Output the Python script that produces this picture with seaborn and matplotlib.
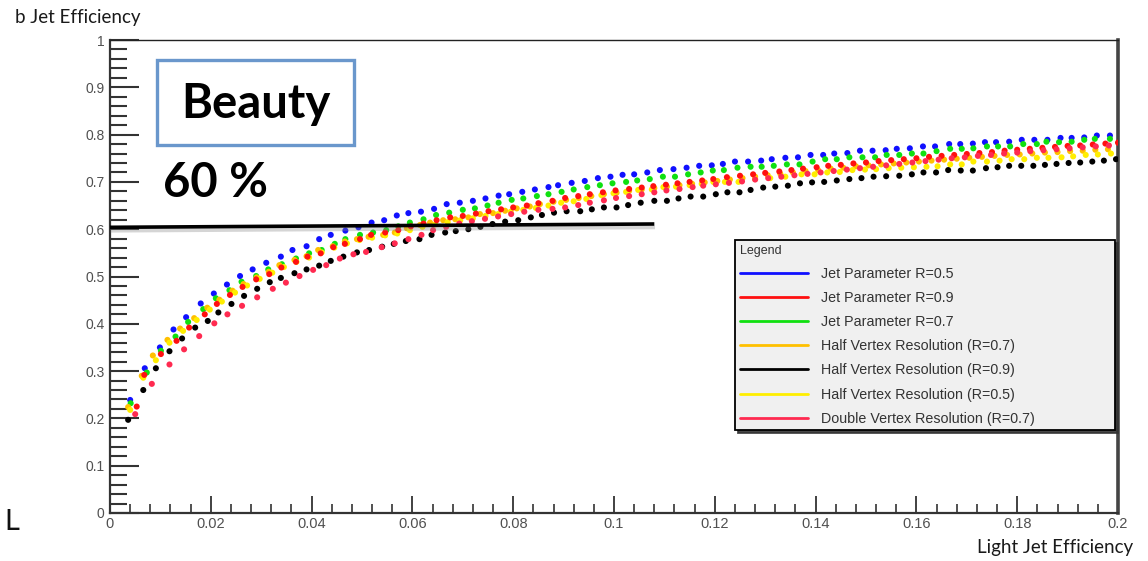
import matplotlib
matplotlib.use("Agg")
import numpy as np
import pandas as pd
import seaborn as sns
import matplotlib.pyplot as plt
from matplotlib.lines import Line2D
from matplotlib.patches import Rectangle
from matplotlib.ticker import MultipleLocator, FixedLocator, FixedFormatter
import matplotlib.patheffects as pe

# ---------------- data ----------------
SERIES = [
    "Jet Parameter R=0.5",
    "Jet Parameter R=0.9",
    "Jet Parameter R=0.7",
    "Half Vertex Resolution (R=0.7)",
    "Half Vertex Resolution (R=0.9)",
    "Half Vertex Resolution (R=0.5)",
    "Double Vertex Resolution (R=0.7)",
]
COLORS = ["#1010ff", "#ff1010", "#10e010", "#ffc000", "#000000", "#ffee00", "#ff2a50"]

blue_x = [0.0040, 0.0069, 0.0099, 0.0126, 0.0151, 0.0180, 0.0206, 0.0232, 0.0258, 0.0283,
          0.0310, 0.0339, 0.0362, 0.0390, 0.0415, 0.0438, 0.0467, 0.0493, 0.0519, 0.0544,
          0.0569, 0.0592, 0.0617, 0.0643, 0.0668, 0.0694, 0.0720, 0.0745, 0.0771, 0.0792,
          0.0818, 0.0843, 0.0870, 0.0889, 0.0916, 0.0942, 0.0968, 0.0993, 0.1017, 0.1040,
          0.1066, 0.1091, 0.1118, 0.1144, 0.1169, 0.1194, 0.1216, 0.1240, 0.1266, 0.1292,
          0.1313, 0.1340, 0.1365, 0.1390, 0.1415, 0.1437, 0.1463, 0.1488, 0.1513, 0.1539,
          0.1561, 0.1587, 0.1613, 0.1637, 0.1665, 0.1687, 0.1712, 0.1736, 0.1758, 0.1784,
          0.1809, 0.1834, 0.1860, 0.1886, 0.1908, 0.1933, 0.1958, 0.1984]
blue_y = [0.239, 0.306, 0.350, 0.388, 0.414, 0.443, 0.464, 0.483, 0.501, 0.515,
          0.529, 0.542, 0.556, 0.564, 0.579, 0.588, 0.597, 0.604, 0.614, 0.619,
          0.629, 0.634, 0.637, 0.643, 0.653, 0.656, 0.660, 0.665, 0.671, 0.674,
          0.679, 0.684, 0.689, 0.693, 0.698, 0.702, 0.708, 0.711, 0.715, 0.716,
          0.720, 0.725, 0.727, 0.730, 0.734, 0.735, 0.738, 0.743, 0.743, 0.745,
          0.748, 0.751, 0.752, 0.757, 0.757, 0.760, 0.761, 0.766, 0.766, 0.767,
          0.770, 0.771, 0.775, 0.775, 0.780, 0.780, 0.781, 0.784, 0.784, 0.785,
          0.789, 0.789, 0.789, 0.793, 0.793, 0.794, 0.798, 0.798]

red_x = [0.0053, 0.0068, 0.0101, 0.0132, 0.0157, 0.0188, 0.0212, 0.0238, 0.0263, 0.0290,
         0.0316, 0.0340, 0.0369, 0.0392, 0.0418, 0.0443, 0.0466, 0.0496, 0.0518, 0.0546,
         0.0572, 0.0597, 0.0622, 0.0648, 0.0675, 0.0700, 0.0726, 0.0751, 0.0776, 0.0800,
         0.0827, 0.0850, 0.0878, 0.0903, 0.0929, 0.0952, 0.0978, 0.1003, 0.1030, 0.1055,
         0.1078, 0.1103, 0.1126, 0.1150, 0.1175, 0.1197, 0.1224, 0.1250, 0.1276, 0.1300,
         0.1328, 0.1352, 0.1375, 0.1402, 0.1425, 0.1450, 0.1475, 0.1500, 0.1525, 0.1550,
         0.1575, 0.1600, 0.1625, 0.1650, 0.1675, 0.1700, 0.1725, 0.1750, 0.1775, 0.1800,
         0.1825, 0.1850, 0.1875, 0.1900, 0.1925, 0.1950, 0.1975, 0.2000]
red_y = [0.225, 0.292, 0.336, 0.364, 0.392, 0.420, 0.442, 0.461, 0.478, 0.494,
         0.505, 0.519, 0.531, 0.542, 0.549, 0.562, 0.569, 0.579, 0.588, 0.593,
         0.598, 0.606, 0.612, 0.619, 0.625, 0.628, 0.633, 0.638, 0.642, 0.646,
         0.650, 0.655, 0.660, 0.666, 0.670, 0.674, 0.678, 0.682, 0.685, 0.688,
         0.691, 0.694, 0.697, 0.700, 0.703, 0.706, 0.710, 0.713, 0.716, 0.719,
         0.722, 0.725, 0.728, 0.731, 0.734, 0.736, 0.739, 0.741, 0.744, 0.746,
         0.748, 0.750, 0.753, 0.755, 0.757, 0.759, 0.761, 0.763, 0.766, 0.768,
         0.770, 0.772, 0.774, 0.776, 0.777, 0.779, 0.781, 0.783]

green_x = [0.0041, 0.0073, 0.0101, 0.0130, 0.0155, 0.0185, 0.0210, 0.0237, 0.0261, 0.0290,
           0.0314, 0.0341, 0.0369, 0.0395, 0.0420, 0.0446, 0.0467, 0.0496, 0.0522, 0.0548,
           0.0572, 0.0595, 0.0622, 0.0647, 0.0673, 0.0700, 0.0724, 0.0749, 0.0771, 0.0797,
           0.0820, 0.0847, 0.0870, 0.0896, 0.0920, 0.0947, 0.0972, 0.0997, 0.1024, 0.1046,
           0.1071, 0.1097, 0.1121, 0.1147, 0.1172, 0.1196, 0.1218, 0.1245, 0.1271, 0.1293,
           0.1317, 0.1343, 0.1368, 0.1394, 0.1419, 0.1442, 0.1467, 0.1493, 0.1518, 0.1541,
           0.1566, 0.1591, 0.1614, 0.1640, 0.1667, 0.1690, 0.1713, 0.1740, 0.1762, 0.1786,
           0.1812, 0.1839, 0.1858, 0.1883, 0.1908, 0.1933, 0.1954, 0.1984]
green_y = [0.232, 0.297, 0.343, 0.373, 0.404, 0.431, 0.454, 0.471, 0.489, 0.501,
           0.515, 0.526, 0.538, 0.549, 0.556, 0.569, 0.579, 0.588, 0.593, 0.598,
           0.606, 0.614, 0.621, 0.630, 0.635, 0.641, 0.644, 0.650, 0.656, 0.662,
           0.665, 0.670, 0.674, 0.679, 0.684, 0.689, 0.693, 0.697, 0.700, 0.703,
           0.706, 0.711, 0.711, 0.716, 0.720, 0.724, 0.725, 0.730, 0.732, 0.732,
           0.734, 0.737, 0.737, 0.743, 0.748, 0.748, 0.752, 0.752, 0.752, 0.757,
           0.757, 0.760, 0.760, 0.765, 0.770, 0.770, 0.771, 0.775, 0.775, 0.775,
           0.780, 0.780, 0.785, 0.784, 0.785, 0.789, 0.791, 0.791]

orange_x = [0.0036, 0.0063, 0.0085, 0.0114, 0.0139, 0.0167, 0.0193, 0.0217, 0.0243, 0.0265,
            0.0291, 0.0315, 0.0336, 0.0366, 0.0390, 0.0413, 0.0442, 0.0466, 0.0490, 0.0513,
            0.0542, 0.0565, 0.0589, 0.0615, 0.0635, 0.0661, 0.0685, 0.0711, 0.0734, 0.0760,
            0.0784, 0.0807, 0.0833, 0.0853, 0.0880, 0.0905, 0.0930, 0.0955, 0.0980, 0.1005,
            0.1030, 0.1055, 0.1080, 0.1105, 0.1130, 0.1155, 0.1180, 0.1205, 0.1230, 0.1255,
            0.1280, 0.1305, 0.1330, 0.1355, 0.1380, 0.1405, 0.1430, 0.1455, 0.1480, 0.1505,
            0.1530, 0.1555, 0.1580, 0.1605, 0.1630, 0.1655, 0.1680, 0.1705, 0.1730, 0.1755,
            0.1780, 0.1805, 0.1830, 0.1855, 0.1880, 0.1905, 0.1930, 0.1955, 0.1980]
orange_y = [0.224, 0.290, 0.333, 0.366, 0.390, 0.412, 0.434, 0.451, 0.470, 0.484,
            0.498, 0.510, 0.524, 0.535, 0.543, 0.556, 0.564, 0.574, 0.579, 0.584,
            0.588, 0.593, 0.602, 0.609, 0.614, 0.619, 0.621, 0.625, 0.632, 0.634,
            0.639, 0.644, 0.648, 0.653, 0.658, 0.662, 0.666, 0.670, 0.674, 0.677,
            0.681, 0.684, 0.687, 0.690, 0.693, 0.696, 0.699, 0.702, 0.705, 0.708,
            0.711, 0.714, 0.717, 0.720, 0.723, 0.725, 0.728, 0.730, 0.733, 0.735,
            0.737, 0.739, 0.741, 0.743, 0.745, 0.747, 0.749, 0.751, 0.753, 0.755,
            0.757, 0.758, 0.760, 0.762, 0.763, 0.765, 0.766, 0.768, 0.769]

black_x = [0.0036, 0.0066, 0.0091, 0.0118, 0.0143, 0.0169, 0.0194, 0.0215, 0.0241, 0.0266,
           0.0292, 0.0317, 0.0339, 0.0366, 0.0390, 0.0415, 0.0438, 0.0463, 0.0490, 0.0514,
           0.0540, 0.0563, 0.0587, 0.0614, 0.0638, 0.0665, 0.0686, 0.0711, 0.0735, 0.0759,
           0.0784, 0.0810, 0.0835, 0.0857, 0.0881, 0.0906, 0.0933, 0.0956, 0.0980, 0.1005,
           0.1028, 0.1053, 0.1080, 0.1105, 0.1128, 0.1152, 0.1177, 0.1202, 0.1225, 0.1249,
           0.1271, 0.1296, 0.1320, 0.1345, 0.1369, 0.1393, 0.1417, 0.1442, 0.1467, 0.1491,
           0.1515, 0.1540, 0.1566, 0.1591, 0.1614, 0.1639, 0.1663, 0.1688, 0.1712, 0.1738,
           0.1761, 0.1784, 0.1808, 0.1832, 0.1855, 0.1878, 0.1902, 0.1925, 0.1949, 0.1972,
           0.1996]
black_y = [0.197, 0.260, 0.306, 0.342, 0.369, 0.392, 0.406, 0.424, 0.442, 0.459,
           0.474, 0.488, 0.497, 0.507, 0.515, 0.523, 0.533, 0.542, 0.551, 0.556,
           0.563, 0.569, 0.575, 0.579, 0.588, 0.593, 0.596, 0.600, 0.605, 0.611,
           0.616, 0.619, 0.625, 0.630, 0.635, 0.638, 0.638, 0.642, 0.646, 0.646,
           0.651, 0.656, 0.660, 0.660, 0.665, 0.669, 0.669, 0.674, 0.678, 0.678,
           0.683, 0.688, 0.690, 0.692, 0.697, 0.699, 0.700, 0.703, 0.706, 0.708,
           0.711, 0.712, 0.713, 0.716, 0.720, 0.720, 0.725, 0.724, 0.724, 0.729,
           0.731, 0.734, 0.734, 0.734, 0.736, 0.738, 0.740, 0.741, 0.743, 0.745,
           0.748]

yellow_x = [0.0040, 0.0066, 0.0091, 0.0118, 0.0145, 0.0172, 0.0198, 0.0222, 0.0248, 0.0272,
            0.0297, 0.0322, 0.0345, 0.0370, 0.0395, 0.0420, 0.0445, 0.0470, 0.0495, 0.0520,
            0.0546, 0.0570, 0.0595, 0.0620, 0.0645, 0.0670, 0.0695, 0.0720, 0.0745, 0.0770,
            0.0795, 0.0820, 0.0845, 0.0870, 0.0895, 0.0920, 0.0945, 0.0975, 0.0999, 0.1024,
            0.1048, 0.1075, 0.1098, 0.1123, 0.1150, 0.1174, 0.1197, 0.1220, 0.1247, 0.1280,
            0.1310, 0.1340, 0.1372, 0.1398, 0.1423, 0.1448, 0.1473, 0.1498, 0.1520, 0.1545,
            0.1570, 0.1595, 0.1620, 0.1642, 0.1667, 0.1690, 0.1713, 0.1740, 0.1765, 0.1789,
            0.1814, 0.1839, 0.1862, 0.1888, 0.1911, 0.1936, 0.1960, 0.1986]
yellow_y = [0.218, 0.286, 0.323, 0.360, 0.385, 0.408, 0.430, 0.447, 0.466, 0.481,
            0.495, 0.508, 0.520, 0.531, 0.540, 0.551, 0.561, 0.570, 0.577, 0.582,
            0.587, 0.591, 0.598, 0.605, 0.610, 0.615, 0.619, 0.623, 0.628, 0.632,
            0.637, 0.641, 0.645, 0.650, 0.656, 0.659, 0.664, 0.672, 0.676, 0.679,
            0.683, 0.684, 0.689, 0.690, 0.693, 0.696, 0.700, 0.700, 0.700, 0.706,
            0.708, 0.711, 0.716, 0.716, 0.720, 0.721, 0.725, 0.726, 0.727, 0.729,
            0.730, 0.731, 0.732, 0.733, 0.737, 0.737, 0.743, 0.743, 0.745, 0.748,
            0.748, 0.751, 0.751, 0.752, 0.754, 0.757, 0.758, 0.760]

pink_x = [0.0050, 0.0083, 0.0118, 0.0147, 0.0177, 0.0207, 0.0233, 0.0262, 0.0292, 0.0323,
          0.0349, 0.0376, 0.0403, 0.0429, 0.0456, 0.0483, 0.0508, 0.0539, 0.0565, 0.0592,
          0.0618, 0.0641, 0.0667, 0.0693, 0.0718, 0.0744, 0.0770, 0.0796, 0.0822, 0.0850,
          0.0878, 0.0903, 0.0929, 0.0952, 0.0980, 0.1004, 0.1030, 0.1055, 0.1080, 0.1104,
          0.1130, 0.1156, 0.1177, 0.1202, 0.1228, 0.1254, 0.1280, 0.1306, 0.1332, 0.1358,
          0.1384, 0.1410, 0.1436, 0.1462, 0.1488, 0.1514, 0.1540, 0.1566, 0.1592, 0.1618,
          0.1644, 0.1670, 0.1696, 0.1722, 0.1748, 0.1774, 0.1800, 0.1826, 0.1852, 0.1878,
          0.1904, 0.1930, 0.1956, 0.1982]
pink_y = [0.209, 0.273, 0.314, 0.346, 0.374, 0.401, 0.420, 0.438, 0.456, 0.474,
          0.487, 0.501, 0.514, 0.524, 0.538, 0.547, 0.552, 0.562, 0.570, 0.579,
          0.588, 0.598, 0.605, 0.612, 0.617, 0.622, 0.627, 0.632, 0.637, 0.641,
          0.643, 0.646, 0.651, 0.656, 0.661, 0.666, 0.670, 0.674, 0.678, 0.682,
          0.685, 0.689, 0.692, 0.695, 0.698, 0.701, 0.705, 0.708, 0.711, 0.714,
          0.717, 0.720, 0.723, 0.726, 0.729, 0.732, 0.735, 0.738, 0.741, 0.744,
          0.747, 0.750, 0.752, 0.755, 0.757, 0.760, 0.762, 0.765, 0.767, 0.769,
          0.771, 0.773, 0.775, 0.777]

SERIES_X = [blue_x, red_x, green_x, orange_x, black_x, yellow_x, pink_x]
SERIES_Y = [blue_y, red_y, green_y, orange_y, black_y, yellow_y, pink_y]

# draw order (pink and red over the others, like the reference)
DRAW_ORDER = [0, 2, 3, 5, 4, 1, 6]

Y_TICKS = [0.0, 0.1, 0.2, 0.3, 0.4, 0.5, 0.6, 0.7, 0.8, 0.9, 1.0]
Y_TICK_LABELS = ["0", "0.1", "0.2", "0.3", "0.4", "0.5", "0.6", "0.7", "0.8", "0.9", "1"]
X_TICKS = [0.0, 0.02, 0.04, 0.06, 0.08, 0.10, 0.12, 0.14, 0.16, 0.18, 0.20]
X_TICK_LABELS = ["0", "0.02", "0.04", "0.06", "0.08", "0.1", "0.12", "0.14", "0.16", "0.18", "0.2"]

# 60 % working-point line
LINE_X = [0.0, 0.108]
LINE_Y = [0.604, 0.611]

# ---------------- figure ----------------
sns.set_theme(style="white")
plt.rcParams["font.family"] = ["Liberation Sans", "DejaVu Sans"]

fig = plt.figure(figsize=(11.48, 5.61), dpi=100)
fig.patch.set_facecolor("white")
ax = fig.add_axes([110 / 1148, 48 / 561, 1008 / 1148, 473 / 561])
ax.set_facecolor("white")

frames = []
for i in DRAW_ORDER:
    frames.append(pd.DataFrame({"x": SERIES_X[i], "y": SERIES_Y[i], "series": SERIES[i]}))
df = pd.concat(frames, ignore_index=True)

sns.scatterplot(data=df, x="x", y="y", hue="series",
                palette=dict(zip(SERIES, COLORS)), hue_order=SERIES,
                s=19, linewidth=0, legend=False, ax=ax, zorder=3)

ax.plot(LINE_X, LINE_Y, color="black", lw=2.6, solid_capstyle="butt", zorder=4,
        clip_on=False,
        path_effects=[pe.SimpleLineShadow(offset=(0.5, -2.5), shadow_color="#888888", alpha=0.35),
                      pe.Normal()])

ax.set_xlim(0, 0.2)
ax.set_ylim(0, 1)
ax.set_xlabel("")
ax.set_ylabel("")

ax.yaxis.set_major_locator(FixedLocator(Y_TICKS))
ax.yaxis.set_major_formatter(FixedFormatter(Y_TICK_LABELS))
ax.xaxis.set_major_locator(FixedLocator(X_TICKS))
ax.xaxis.set_major_formatter(FixedFormatter(X_TICK_LABELS))
ax.yaxis.set_minor_locator(MultipleLocator(0.02))
ax.xaxis.set_minor_locator(MultipleLocator(0.004))

ax.tick_params(axis="y", which="major", direction="in", length=21, width=1.5,
               color="#333333", labelsize=10, labelcolor="#505050", pad=4,
               left=True, right=False)
ax.tick_params(axis="y", which="minor", direction="in", length=12, width=1.5,
               color="#333333", left=True, right=False)
ax.tick_params(axis="x", which="major", direction="in", length=12, width=1.3,
               color="#333333", labelsize=10.5, labelcolor="#505050", pad=3,
               bottom=True, top=False)
ax.tick_params(axis="x", which="minor", direction="in", length=6.5, width=1.2,
               color="#333333", bottom=True, top=False)
for lab in ax.get_xticklabels():
    lab.set_fontfamily(["Liberation Sans Narrow", "Liberation Sans", "DejaVu Sans"])
    lab.set_fontstretch("condensed")

ax.spines["left"].set_linewidth(1.6)
ax.spines["left"].set_color("#333333")
ax.spines["bottom"].set_linewidth(1.6)
ax.spines["bottom"].set_color("#333333")
ax.spines["top"].set_linewidth(1.0)
ax.spines["top"].set_color("#222222")
ax.spines["right"].set_linewidth(2.6)
ax.spines["right"].set_color("#444444")
for s in ax.spines.values():
    s.set_visible(True)

# legend (ROOT-style)
handles = [Line2D([], [], color=c, lw=2.0) for c in COLORS]
leg = ax.legend(handles, SERIES, title="Legend", loc="upper left",
                bbox_to_anchor=(0.620, 0.171, 0.377, 0.406), mode="expand",
                borderaxespad=0.0,
                fontsize=10.3, title_fontsize=9, labelspacing=0.71,
                handlelength=4.8, handletextpad=0.9, borderpad=0.32,
                alignment="left", frameon=True, fancybox=False,
                facecolor="#f0f0f0", edgecolor="black", framealpha=1.0,
                shadow={"ox": 2, "oy": -2, "color": "#333333", "alpha": 0.9})
leg.get_frame().set_linewidth(1.3)
for t in leg.get_texts():
    t.set_color("#333333")
leg.get_title().set_color("#333333")
leg.set_zorder(6)

# box with "Beauty"
rect = Rectangle((157 / 1148, 1 - 145 / 561), 197 / 1148, 85 / 561,
                 transform=fig.transFigure, facecolor="white",
                 edgecolor="#6a97cc", lw=2.4, zorder=7)
fig.add_artist(rect)
fig.text(255.5 / 1148, 1 - 104 / 561, "Beauty", ha="center", va="center",
         fontsize=34, fontweight="bold", family=["Lato", "DejaVu Sans"],
         color="black", zorder=8)
fig.text(163 / 1148, 1 - 183 / 561, "60 %", ha="left", va="center",
         fontsize=34, fontweight="bold", family=["Lato", "DejaVu Sans"],
         color="black", zorder=8)

# axis titles
fig.text(15 / 1148, 1 - 18 / 561, "b Jet Efficiency", ha="left", va="center",
         fontsize=13.5, family=["Lato", "DejaVu Sans"], color="#1a1a1a")
fig.text(1133 / 1148, 1 - 548 / 561, "Light Jet Efficiency", ha="right", va="center",
         fontsize=13.5, family=["Lato", "DejaVu Sans"], color="#1a1a1a")
fig.text(4 / 1148, 1 - 522 / 561, "L", ha="left", va="center",
         fontsize=21, family=["Lato", "DejaVu Sans"], color="#111111")

fig.savefig("out.png", dpi=100, facecolor="white")
